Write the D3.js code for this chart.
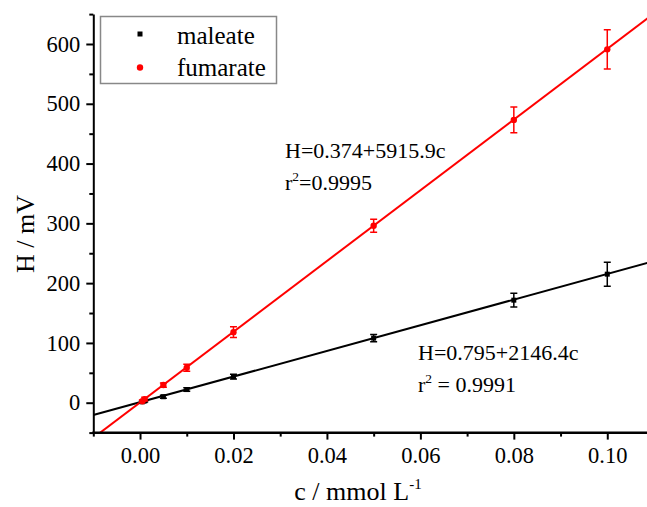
<!DOCTYPE html>
<html><head><meta charset="utf-8">
<script src="https://cdn.jsdelivr.net/npm/d3@7"></script>
<style>body{margin:0;background:#fff;} svg{display:block;overflow:hidden;} svg text{font-family:'Liberation Serif','Times New Roman','DejaVu Serif',serif !important;fill:#000;}</style>
</head><body><svg id="c" width="647" height="507"></svg>
<script>
// Data
const concMaleate = [0.0005, 0.001, 0.005, 0.01, 0.02, 0.05, 0.08, 0.10];
const hMaleate    = [1.5, 3, 10, 22, 43.5, 108, 171.5, 215];
const errMaleate  = [1.5, 2, 2.5, 3, 4, 6, 11.5, 20];
const concFumarate = [0.0005, 0.001, 0.005, 0.01, 0.02, 0.05, 0.08, 0.10];
const hFumarate    = [2.5, 6, 29.5, 58.5, 118, 296, 473, 591];
const errFumarate  = [2, 3, 3.5, 6, 9, 11, 21.5, 33];
const fitMaleate = [0.795, 2146.4];   // intercept, slope
const fitFumarate = [0.374, 5915.9];
const xTicks = [0.00, 0.02, 0.04, 0.06, 0.08, 0.10];
const xMinor = [-0.01, 0.01, 0.03, 0.05, 0.07, 0.09, 0.11];
const yTicks = [0, 100, 200, 300, 400, 500, 600];
const yMinor = [-50, 50, 150, 250, 350, 450, 550, 650];
const legendLabels = ["maleate", "fumarate"];

const FONT = "'Liberation Serif','Times New Roman','DejaVu Serif',serif";
const svg = d3.select("#c");
const x = d3.scaleLinear().domain([-0.01, 0.11]).range([93.3, 654]);
const y = d3.scaleLinear().domain([-50, 650]).range([432.6, 14.1]);
const X0 = x(-0.01), Y0 = y(-50);

svg.append("defs").append("clipPath").attr("id","pc")
  .append("rect").attr("x", X0).attr("y", y(650)).attr("width", 700).attr("height", Y0 - y(650));

const plot = svg.append("g").attr("clip-path","url(#pc)");

function fitLine(fit, color){
  const xs = [-0.01, 0.11];
  plot.append("path")
    .datum(xs.map(c => [c, fit[0] + fit[1]*c]))
    .attr("d", d3.line().x(d=>x(d[0])).y(d=>y(d[1])))
    .attr("fill","none").attr("stroke",color).attr("stroke-width",2);
}
fitLine(fitMaleate, "#000");
fitLine(fitFumarate, "#ff0000");

function errBars(cs, hs, es, color){
  const g = plot.append("g").attr("stroke", color).attr("stroke-width", 1.5).attr("fill","none");
  cs.forEach((c,i)=>{
    const cx = x(c), yt = y(hs[i]+es[i]), yb = y(hs[i]-es[i]);
    g.append("line").attr("x1",cx).attr("x2",cx).attr("y1",yt).attr("y2",yb);
    g.append("line").attr("x1",cx-3.5).attr("x2",cx+3.5).attr("y1",yt).attr("y2",yt);
    g.append("line").attr("x1",cx-3.5).attr("x2",cx+3.5).attr("y1",yb).attr("y2",yb);
  });
}
errBars(concMaleate, hMaleate, errMaleate, "#000");
errBars(concFumarate, hFumarate, errFumarate, "#ff0000");

plot.append("g").selectAll("rect").data(concMaleate).join("rect")
  .attr("x",(d)=>x(d)-2.5).attr("y",(d,i)=>y(hMaleate[i])-2.5)
  .attr("width",5).attr("height",5).attr("fill","#000");
plot.append("g").selectAll("circle").data(concFumarate).join("circle")
  .attr("cx",d=>x(d)).attr("cy",(d,i)=>y(hFumarate[i])).attr("r",3.2).attr("fill","#ff0000");

function styleAxis(g){
  g.attr("font-family", FONT);
  g.select(".domain").attr("stroke","#000").attr("stroke-width",2);
  g.selectAll(".tick line").attr("stroke","#000").attr("stroke-width",2);
  g.selectAll(".tick text").attr("font-family", FONT).attr("font-size", 22.5).attr("fill","#000");
}
const xAxis = svg.append("g").attr("transform",`translate(0,${Y0})`)
  .call(d3.axisBottom(x).tickValues(xTicks).tickFormat(d3.format(".2f")).tickSize(7).tickPadding(7).tickSizeOuter(0));
styleAxis(xAxis);
const xAxisMinor = svg.append("g").attr("transform",`translate(0,${Y0})`)
  .call(d3.axisBottom(x).tickValues(xMinor).tickFormat("").tickSize(4).tickSizeOuter(0));
styleAxis(xAxisMinor);
xAxisMinor.select(".domain").remove();

const yAxis = svg.append("g").attr("transform",`translate(${X0},0)`)
  .call(d3.axisLeft(y).tickValues(yTicks).tickSize(7).tickPadding(6).tickSizeOuter(0));
styleAxis(yAxis);
const yAxisMinor = svg.append("g").attr("transform",`translate(${X0},0)`)
  .call(d3.axisLeft(y).tickValues(yMinor).tickFormat("").tickSize(4).tickSizeOuter(0));
styleAxis(yAxisMinor);
yAxisMinor.select(".domain").remove();
svg.append("line").attr("x1",X0-1).attr("x2",660).attr("y1",Y0).attr("y2",Y0).attr("stroke","#000").attr("stroke-width",2);

const xt = svg.append("text").attr("x",358).attr("y",500).attr("text-anchor","middle").attr("font-family",FONT).attr("font-size",26);
xt.append("tspan").text("c / mmol L");
xt.append("tspan").attr("dy",-11).attr("font-size",15).text("-1");
svg.append("text").attr("transform","translate(34,234) rotate(-90)").attr("text-anchor","middle")
  .attr("font-family",FONT).attr("font-size",26).text("H / mV");

const lg = svg.append("g").attr("font-family",FONT);
lg.append("rect").attr("x",100.5).attr("y",16.5).attr("width",176).attr("height",67)
  .attr("fill","#fff").attr("stroke","#888").attr("stroke-width",1.5);
lg.append("rect").attr("x",137.5).attr("y",31.5).attr("width",5).attr("height",5).attr("fill","#000");
lg.append("circle").attr("cx",140).attr("cy",67.5).attr("r",3.2).attr("fill","#ff0000");
lg.append("text").attr("x",177).attr("y",44).attr("font-size",25).text(legendLabels[0]);
lg.append("text").attr("x",177).attr("y",76).attr("font-size",25).text(legendLabels[1]);

function annot(x0, y0, eq, r2){
  svg.append("text").attr("x",x0).attr("y",y0).attr("font-family",FONT).attr("font-size",22).text(eq);
  const t = svg.append("text").attr("x",x0).attr("y",y0+32).attr("font-family",FONT).attr("font-size",22);
  t.append("tspan").text("r");
  t.append("tspan").attr("dy",-9).attr("font-size",13.5).text("2");
  t.append("tspan").attr("dy",9).text(r2);
}
annot(285, 158, "H=0.374+5915.9c", "=0.9995");
annot(418, 360, "H=0.795+2146.4c", " = 0.9991");
</script></body></html>
